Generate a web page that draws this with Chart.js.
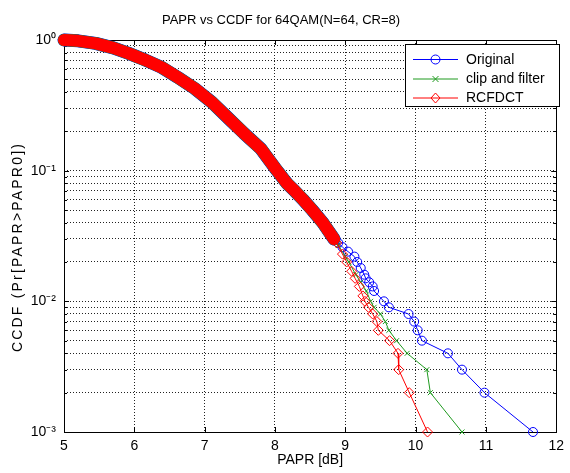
<!DOCTYPE html>
<html><head><meta charset="utf-8">
<script src="https://cdn.jsdelivr.net/npm/chart.js@4.4.1/dist/chart.umd.min.js"></script>
<style>html,body{margin:0;padding:0;background:#fff;}canvas{display:block;}</style>
</head><body>
<canvas id="c" width="570" height="473"></canvas>
<script>
// ---- texts ----
const chartTitle = 'PAPR vs CCDF for 64QAM(N=64, CR=8)';
const xTitle = 'PAPR [dB]';
const yTitle = 'CCDF (Pr[PAPR>PAPR0])';
const seriesNames = ['Original', 'clip and filter', 'RCFDCT'];

// ---- ticks ----
const xTicks = [5, 6, 7, 8, 9, 10, 11, 12];
const yTicks = [0.001, 0.002, 0.003, 0.004, 0.005, 0.006, 0.007, 0.008, 0.009,
                0.01, 0.02, 0.03, 0.04, 0.05, 0.06, 0.07, 0.08, 0.09,
                0.1, 0.2, 0.3, 0.4, 0.5, 0.6, 0.7, 0.8, 0.9, 1];
const yDecades = [0.001, 0.01, 0.1, 1];
const yDecadeLabels = ['10\u207B\u00B3', '10\u207B\u00B2', '10\u207B\u00B9', '10\u2070'];

// ---- dense part, where the three curves coincide (thick band of markers) ----
const bandPapr = [5.00, 5.20, 5.45, 5.70, 5.92, 6.15, 6.39, 6.62, 6.86, 7.10, 7.33, 7.56, 7.80, 8.00, 8.17, 8.28, 8.40, 8.53, 8.68, 8.84];
const bandCcdf = [1.00, 0.985, 0.943, 0.871, 0.790, 0.705, 0.617, 0.517, 0.425, 0.335, 0.254, 0.193, 0.147, 0.105, 0.080, 0.070, 0.060, 0.050, 0.040, 0.030];

// ---- tails (individual markers) ----
const origPapr = [8.84, 8.90, 8.96, 9.04, 9.13, 9.17, 9.22, 9.27, 9.29, 9.34, 9.39, 9.41, 9.55, 9.62, 9.90, 9.98, 10.03, 10.09, 10.46, 10.66, 10.98, 11.67];
const origCcdf = [0.030, 0.028, 0.026, 0.024, 0.022, 0.020, 0.018, 0.016, 0.015, 0.014, 0.013, 0.012, 0.010, 0.009, 0.008, 0.007, 0.006, 0.005, 0.004, 0.003, 0.002, 0.001];

const clipPapr = [8.84, 8.90, 9.00, 9.05, 9.15, 9.22, 9.30, 9.36, 9.41, 9.50, 9.57, 9.62, 9.73, 9.88, 10.16, 10.21, 10.66];
const clipCcdf = [0.030, 0.027, 0.022, 0.020, 0.016, 0.014, 0.012, 0.010, 0.009, 0.008, 0.007, 0.006, 0.005, 0.004, 0.003, 0.002, 0.001];

const rcfPapr = [8.84, 8.88, 8.96, 9.02, 9.09, 9.14, 9.20, 9.25, 9.28, 9.33, 9.39, 9.45, 9.47, 9.63, 9.75, 9.76, 9.91, 10.17];
const rcfCcdf = [0.030, 0.028, 0.023, 0.020, 0.017, 0.015, 0.013, 0.011, 0.010, 0.009, 0.008, 0.007, 0.006, 0.005, 0.004, 0.003, 0.002, 0.001];

const colBlue = '#0000ff', colGreen = '#1f9a1f', colRed = '#ff0000';
const pts = (xs, ys) => xs.map((x, i) => ({x: x, y: ys[i]}));

const FONT = '"Liberation Sans", Arial, Helvetica, sans-serif';

const frame = {
  id: 'frame',
  beforeDatasetsDraw(chart) {
    const {ctx, chartArea: a, scales} = chart;
    ctx.save();
    ctx.strokeStyle = '#000';
    ctx.lineWidth = 1;
    ctx.beginPath();
    xTicks.forEach(v => {
      const px = Math.round(scales.x.getPixelForValue(v)) + 0.5;
      ctx.moveTo(px, a.bottom); ctx.lineTo(px, a.bottom - 5);
      ctx.moveTo(px, a.top); ctx.lineTo(px, a.top + 5);
    });
    yTicks.forEach(v => {
      const py = Math.round(scales.y.getPixelForValue(v)) + 0.5;
      const len = yDecades.includes(v) ? 5 : 3;
      ctx.moveTo(a.left, py); ctx.lineTo(a.left + len, py);
      ctx.moveTo(a.right, py); ctx.lineTo(a.right - len, py);
    });
    ctx.stroke();
    ctx.strokeRect(Math.round(a.left) + 0.5, Math.round(a.top) + 0.5, Math.round(a.right - a.left), Math.round(a.bottom - a.top));
    ctx.restore();
  },
  afterDraw(chart) {
    const {ctx} = chart;
    ctx.save();
    // y axis title
    ctx.translate(18, 247);
    ctx.rotate(-Math.PI / 2);
    ctx.font = '14px ' + FONT;
    try { ctx.letterSpacing = '2.2px'; } catch (e) {}
    ctx.fillStyle = '#000';
    ctx.textAlign = 'center';
    ctx.textBaseline = 'middle';
    ctx.fillText(yTitle, 0, 0);
    ctx.restore();

    // legend box
    ctx.save();
    const bx = 405, by = 44, bw = 154, bh = 62;
    ctx.fillStyle = '#fff';
    ctx.fillRect(bx, by, bw, bh);
    ctx.strokeStyle = '#000';
    ctx.lineWidth = 1;
    ctx.strokeRect(bx + 0.5, by + 0.5, bw, bh);
    const rows = [59, 78.5, 97.5];
    const styles = [
      {c: colBlue, m: 'circle'}, {c: colGreen, m: 'x'}, {c: colRed, m: 'diamond'}
    ];
    ctx.font = '14px ' + FONT;
    ctx.textBaseline = 'middle';
    ctx.textAlign = 'left';
    rows.forEach((ry, i) => {
      const s = styles[i];
      ctx.strokeStyle = s.c;
      ctx.lineWidth = 1;
      ctx.beginPath();
      ctx.moveTo(413, ry + 0.5); ctx.lineTo(458, ry + 0.5);
      ctx.stroke();
      const cx = 435.5, cy = ry + 0.5;
      ctx.beginPath();
      if (s.m === 'circle') { ctx.arc(cx, cy, 4.5, 0, Math.PI * 2); }
      else if (s.m === 'x') { ctx.moveTo(cx - 3, cy - 3); ctx.lineTo(cx + 3, cy + 3); ctx.moveTo(cx + 3, cy - 3); ctx.lineTo(cx - 3, cy + 3); }
      else { ctx.moveTo(cx, cy - 5); ctx.lineTo(cx + 4.5, cy); ctx.lineTo(cx, cy + 5); ctx.lineTo(cx - 4.5, cy); ctx.closePath(); }
      ctx.stroke();
      ctx.fillStyle = '#000';
      ctx.fillText(chart.data.datasets[i].label, 466, ry + 1);
    });
    ctx.restore();
  }
};

const markerSet = (label, xs, ys, color, style, radius, order) => ({
  label: label,
  data: pts(xs, ys),
  borderColor: color,
  backgroundColor: 'rgba(0,0,0,0)',
  borderWidth: 1,
  pointStyle: style,
  pointRadius: radius,
  pointBorderWidth: 1,
  pointBorderColor: color,
  pointBackgroundColor: 'rgba(0,0,0,0)',
  showLine: true,
  fill: false,
  tension: 0,
  clip: false,
  order: order
});
const bandSet = (label, color, width, order) => ({
  label: label + ' (dense)',
  data: pts(bandPapr, bandCcdf),
  borderColor: color,
  backgroundColor: color,
  borderWidth: width,
  borderCapStyle: 'round',
  borderJoinStyle: 'round',
  pointRadius: 0,
  showLine: true,
  fill: false,
  tension: 0,
  clip: false,
  order: order
});

new Chart(document.getElementById('c'), {
  type: 'scatter',
  data: {
    datasets: [
      markerSet(seriesNames[0], origPapr, origCcdf, colBlue, 'circle', 4.5, 6),
      markerSet(seriesNames[1], clipPapr, clipCcdf, colGreen, 'crossRot', 3.5, 4),
      markerSet(seriesNames[2], rcfPapr, rcfCcdf, colRed, 'rectRot', 5, 2),
      bandSet(seriesNames[0], colBlue, 13, 7),
      bandSet(seriesNames[1], colGreen, 12.5, 5),
      bandSet(seriesNames[2], colRed, 12, 3)
    ]
  },
  options: {
    responsive: false,
    animation: false,
    devicePixelRatio: 1,
    layout: {padding: {left: 0, right: 8, top: 0, bottom: 0}},
    plugins: {
      legend: {display: false},
      tooltip: {enabled: false},
      title: {
        display: true,
        text: chartTitle,
        color: '#000',
        font: {family: FONT, size: 13, weight: 'normal'},
        padding: {top: 12.4, bottom: 12}
      }
    },
    scales: {
      x: {
        type: 'linear',
        min: 5, max: 12,
        afterBuildTicks: s => { s.ticks = xTicks.map(v => ({value: v})); },
        afterFit: s => { s.height = 41; },
        ticks: {color: '#000', font: {family: FONT, size: 14}, padding: 6, autoSkip: false, maxRotation: 0},
        grid: {color: '#222', lineWidth: 1, drawTicks: false},
        border: {display: false, dash: [1, 2]},
        title: {display: true, text: xTitle, color: '#000', font: {family: FONT, size: 14}, padding: {top: 0, bottom: 4}}
      },
      y: {
        type: 'logarithmic',
        min: 0.001, max: 1,
        afterBuildTicks: s => { s.ticks = yTicks.map(v => ({value: v})); },
        afterFit: s => { s.width = 64; },
        ticks: {
          color: '#000', font: {family: FONT, size: 14}, padding: 8, autoSkip: false,
          callback: v => {
            const i = yDecades.findIndex(d => Math.abs(d - v) < d * 1e-6);
            return i >= 0 ? yDecadeLabels[i] : '';
          }
        },
        grid: {color: '#222', lineWidth: 1, drawTicks: false},
        border: {display: false, dash: [1, 2]}
      }
    }
  },
  plugins: [frame]
});
</script>
</body></html>
